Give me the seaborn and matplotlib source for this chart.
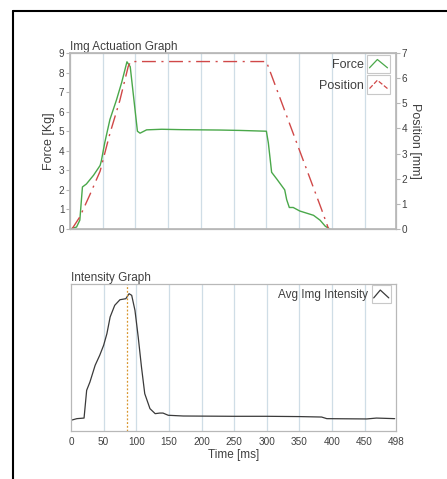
"""
Img actuation (force / position) and intensity graphs, shared time axis.
"""
import numpy as np
import pandas as pd

import matplotlib.pyplot as plt
from matplotlib.legend_handler import HandlerBase
from matplotlib.lines import Line2D
from matplotlib.patches import Rectangle
import seaborn as sns

sns.set_theme(style='white')
plt.rcParams['font.family'] = ['Liberation Sans', 'DejaVu Sans']

# force curve [Kg] vs time [ms]
force_t = [0, 10, 15, 19, 25, 36, 46, 48, 53, 61, 71, 79, 87, 92, 97, 103, 107, 117,
           140, 170, 200, 230, 260, 280, 300, 303, 308, 316, 328, 331, 335, 341, 351,
           372, 382, 390, 397]
force_kg = [0.0, 0.1, 0.45, 2.15, 2.3, 2.75, 3.25, 3.5, 4.4, 5.6, 6.6, 7.5, 8.55, 8.3,
            6.8, 5.0, 4.9, 5.07, 5.1, 5.08, 5.07, 5.06, 5.04, 5.02, 5.0, 4.4, 2.9, 2.55,
            2.0, 1.5, 1.1, 1.1, 0.92, 0.7, 0.45, 0.14, 0.0]

# actuator position [mm] vs time [ms]
pos_t = [3, 15, 31, 46, 61, 76, 89, 93, 300, 351, 384, 395]
pos_mm = [0.0, 0.48, 1.4, 2.3, 3.8, 5.1, 6.47, 6.66, 6.66, 3.1, 0.8, 0.0]

# average image intensity (arbitrary units) vs time [ms]
inten_t = [0, 9, 20, 24, 29, 37, 44, 50, 55, 60, 67, 75, 84, 89, 93, 98, 103, 108,
           113, 121, 129, 136, 141, 149, 172, 249, 300, 351, 384, 392, 453, 468, 496]
inten = [7.3, 8.4, 8.8, 27.7, 33.3, 44.7, 51.5, 58.3, 66.2, 77.6, 85.5, 89.3, 90.0,
         93.4, 92.3, 82.1, 63.9, 43.5, 25.4, 15.2, 11.8, 12.2, 12.2, 10.7, 10.2, 10.0,
         10.0, 9.8, 9.5, 8.4, 8.2, 8.8, 8.4]

peak_time = 86
time_ticks = [0, 50, 100, 150, 200, 250, 300, 350, 400, 450, 498]
grid_times = [50, 100, 150, 200, 250, 300, 350, 400, 450]

GREEN = '#4aa84a'
RED = '#d04848'
DARK = '#3a3a3a'
SPINE = '#b8b8b8'
GRID = '#cfdde6'
TXT = '#404040'
DASHDOT = (0, (10, 4, 1.5, 4))


class BoxHandler(HandlerBase):
    """legend key drawn as a little boxed zig-zag, like the LabVIEW plot legend"""
    def create_artists(self, legend, orig_handle, xdescent, ydescent, width, height,
                       fontsize, trans):
        box = Rectangle((-xdescent, -ydescent - 3.5), width, height + 7,
                        facecolor='white', edgecolor='#c8c8c8', lw=0.8, transform=trans)
        xs = np.array([0.1, 0.45, 0.9]) * width - xdescent
        ys = np.array([0.05, 1.0, 0.05]) * height - ydescent
        line = Line2D(xs, ys, color=orig_handle.get_color(),
                      linestyle=orig_handle.get_linestyle(), lw=0.9, transform=trans)
        return [box, line]


def style_axes(ax):
    for sp in ax.spines.values():
        sp.set_color(SPINE)
        sp.set_linewidth(0.9)
    for g in grid_times:
        ax.axvline(g, color=GRID, lw=0.9, zorder=0)
    ax.set_xlim(0, 498)
    ax.tick_params(colors=SPINE, labelcolor=TXT, labelsize=7.2, length=3, width=0.8, pad=1)


fig = plt.figure(figsize=(4.47, 4.79), dpi=100)

# outer frame (only top and left edges visible in the crop)
fig.add_artist(Line2D([13 / 447, 13 / 447], [0, 1 - 11 / 479], color='black', lw=1.5,
                      transform=fig.transFigure))
fig.add_artist(Line2D([13 / 447, 1], [1 - 11 / 479, 1 - 11 / 479], color='black', lw=1.5,
                      transform=fig.transFigure))

# ---- top: actuation graph
ax1 = fig.add_axes([70 / 447, 1 - 229 / 479, 326 / 447, 176 / 479])
style_axes(ax1)
df_force = pd.DataFrame({'t': force_t, 'force': force_kg})
sns.lineplot(data=df_force, x='t', y='force', ax=ax1, color=GREEN, lw=1.0)
ax1.set_ylim(0, 9)
ax1.set_yticks(range(10))
ax1.set_xticks([])
ax1.set_xlabel('')
ax1.set_ylabel('Force [Kg]', fontsize=9, color=TXT, labelpad=3)
ax1.set_title('Img Actuation Graph', loc='left', fontsize=8.5, color=TXT, pad=2)

ax1r = ax1.twinx()
df_pos = pd.DataFrame({'t': pos_t, 'pos': pos_mm})
sns.lineplot(data=df_pos, x='t', y='pos', ax=ax1r, color=RED, lw=1.0, linestyle=DASHDOT)
ax1r.set_ylim(0, 7)
ax1r.set_yticks(range(8))
ax1r.set_xlim(0, 498)
for sp in ax1r.spines.values():
    sp.set_color(SPINE)
ax1r.tick_params(colors=SPINE, labelcolor=TXT, labelsize=7.2, length=3, width=0.8, pad=1)
ax1r.set_ylabel('Position [mm]', fontsize=9, color=TXT, rotation=270, labelpad=10)

h_force = Line2D([], [], color=GREEN)
h_pos = Line2D([], [], color=RED, linestyle=(0, (3, 1.5, 1, 1.5)))
ax1r.legend([h_force, h_pos], ['Force', 'Position'], handler_map={Line2D: BoxHandler()},
            loc='upper right', frameon=False, markerfirst=False, fontsize=9,
            handlelength=1.8, handletextpad=0.25, labelspacing=0.7,
            borderaxespad=0.1, borderpad=0.4, labelcolor=TXT)

# ---- bottom: intensity graph
ax2 = fig.add_axes([71 / 447, 1 - 431 / 479, 325 / 447, 147 / 479])
style_axes(ax2)
df_int = pd.DataFrame({'t': inten_t, 'intensity': inten})
sns.lineplot(data=df_int, x='t', y='intensity', ax=ax2, color=DARK, lw=0.9,
             label='Avg Img Intensity')
ax2.axvline(peak_time, color='#d8962e', lw=0.9, linestyle=(0, (1.5, 1.5)))
ax2.set_ylim(0, 100)
ax2.set_yticks([])
ax2.set_xticks(time_ticks)
ax2.set_ylabel('')
ax2.set_xlabel('Time [ms]', fontsize=8.5, color=TXT, labelpad=2)
ax2.set_title('Intensity Graph', loc='left', fontsize=8.5, color=TXT, pad=2)
h_int = Line2D([], [], color=DARK)
ax2.legend([h_int], ['Avg Img Intensity'], handler_map={Line2D: BoxHandler()},
           loc='upper right', frameon=False, markerfirst=False, fontsize=8.5,
           handlelength=1.6, handletextpad=0.3, borderaxespad=0.05, borderpad=0.4,
           labelcolor=TXT)

fig.savefig('out.png', dpi=100)
